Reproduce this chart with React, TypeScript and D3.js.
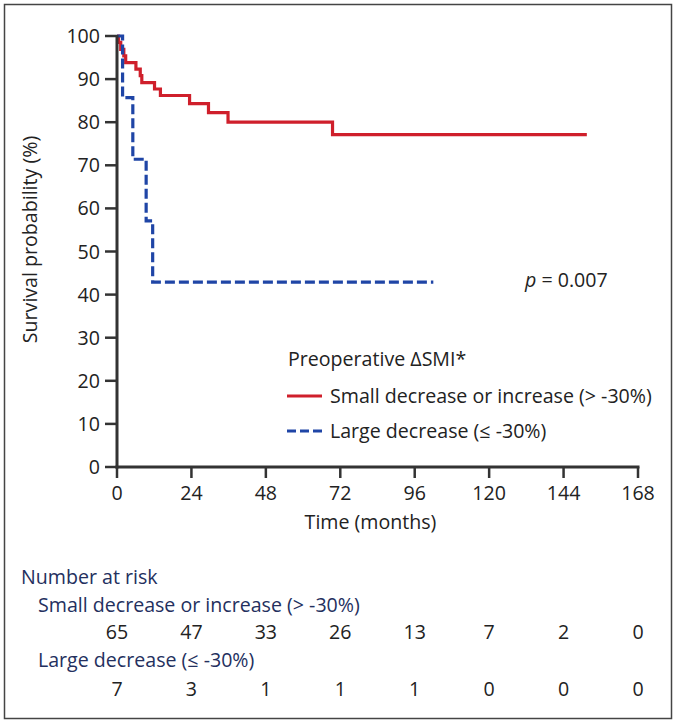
import React from "react";
import * as d3 from "d3";

const xTicks = [0, 24, 48, 72, 96, 120, 144, 168];
const yTicks = [0, 10, 20, 30, 40, 50, 60, 70, 80, 90, 100];

const redTimes = [0, 0.5, 1.2, 2.2, 2.8, 6.1, 7.5, 8.0, 12.1, 14.0, 23.4, 29.5, 35.8, 69.5];
const redSurv = [100, 98.5, 96.9, 95.4, 93.8, 92.3, 90.8, 89.2, 87.7, 86.2, 84.3, 82.2, 80.0, 77.1];
const redEnd = 151.5;

const blueTimes = [0, 1.8, 5.1, 9.4, 11.5];
const blueSurv = [100, 85.7, 71.4, 57.1, 42.9];
const blueEnd = 102;

const seriesNames = ["Small decrease or increase (> -30%)", "Large decrease (≤ -30%)"];
const riskSmall = [65, 47, 33, 26, 13, 7, 2, 0];
const riskLarge = [7, 3, 1, 1, 1, 0, 0, 0];

const FONT = "'Open Sans', 'Noto Sans', sans-serif";
const FS = 19.6;
const TEXT = "#222";
const NAVY = "#24305e";
const RED = "#cf1f2b";
const BLUE = "#1f45a6";

export default function App() {
  const x = d3.scaleLinear().domain([0, 168]).range([117, 638]);
  const y = d3.scaleLinear().domain([0, 100]).range([467, 36]);

  const line = d3
    .line<[number, number]>()
    .x((d) => x(d[0]))
    .y((d) => y(d[1]))
    .curve(d3.curveStepAfter);

  const redPts: [number, number][] = redTimes.map((t, i) => [t, redSurv[i]]);
  redPts.push([redEnd, redSurv[redSurv.length - 1]]);
  const bluePts: [number, number][] = blueTimes.map((t, i) => [t, blueSurv[i]]);
  bluePts.push([blueEnd, blueSurv[blueSurv.length - 1]]);

  return (
    <svg
      width={677}
      height={726}
      style={{ position: "absolute", left: 0, top: 0, background: "#fff" }}
      fontFamily={FONT}
    >
      <rect x={4.5} y={4.5} width={667} height={714} fill="none" stroke="#444" strokeWidth={1.5} />

      {/* curves */}
      <path d={line(redPts) || ""} fill="none" stroke={RED} strokeWidth={3.2} />
      <path
        d={line(bluePts) || ""}
        fill="none"
        stroke={BLUE}
        strokeWidth={3.2}
        strokeDasharray="10,4"
      />

      {/* axes */}
      <line x1={x(0)} x2={x(0)} y1={y(100) - 1} y2={y(0) + 1.5} stroke="#333" strokeWidth={3} />
      <line x1={x(0) - 1.5} x2={x(168) + 1.5} y1={y(0)} y2={y(0)} stroke="#333" strokeWidth={3} />
      {yTicks.map((t) => (
        <g key={"y" + t}>
          <line x1={x(0) - 12} x2={x(0)} y1={y(t)} y2={y(t)} stroke="#333" strokeWidth={2.5} />
          <text x={x(0) - 17} y={y(t)} dy="0.36em" textAnchor="end" fontSize={FS} fill={TEXT}>
            {t}
          </text>
        </g>
      ))}
      {xTicks.map((t) => (
        <g key={"x" + t}>
          <line x1={x(t)} x2={x(t)} y1={y(0)} y2={y(0) + 11} stroke="#333" strokeWidth={2.5} />
          <text x={x(t)} y={500} textAnchor="middle" fontSize={FS} fill={TEXT}>
            {t}
          </text>
        </g>
      ))}
      <text
        transform={`translate(37,${y(50) - 12}) rotate(-90)`}
        textAnchor="middle"
        fontSize={FS}
        fill={TEXT}
      >
        Survival probability (%)
      </text>
      <text x={(x(0) + x(168)) / 2 - 7} y={529} textAnchor="middle" fontSize={FS} fill={TEXT}>
        Time (months)
      </text>

      {/* p value */}
      <text x={525} y={287} fontSize={FS} fill={TEXT}>
        <tspan fontStyle="italic">p</tspan> = 0.007
      </text>

      {/* legend */}
      <text x={288} y={366} fontSize={FS} fill={TEXT}>
        Preoperative ΔSMI*
      </text>
      <line x1={287} x2={322} y1={396} y2={396} stroke={RED} strokeWidth={3.2} />
      <text x={330} y={403} fontSize={FS} fill={TEXT}>
        {seriesNames[0]}
      </text>
      <line x1={287} x2={322} y1={431} y2={431} stroke={BLUE} strokeWidth={3.2} strokeDasharray="9,4" />
      <text x={330} y={438} fontSize={FS} fill={TEXT}>
        {seriesNames[1]}
      </text>

      {/* risk table */}
      <text x={21} y={584} fontSize={FS} fill={NAVY}>
        Number at risk
      </text>
      <text x={38} y={612} fontSize={FS} fill={NAVY}>
        {seriesNames[0]}
      </text>
      {riskSmall.map((v, i) => (
        <text key={"rs" + i} x={x(xTicks[i])} y={639} textAnchor="middle" fontSize={FS} fill={TEXT}>
          {v}
        </text>
      ))}
      <text x={38} y={667} fontSize={FS} fill={NAVY}>
        {seriesNames[1]}
      </text>
      {riskLarge.map((v, i) => (
        <text key={"rl" + i} x={x(xTicks[i])} y={696} textAnchor="middle" fontSize={FS} fill={TEXT}>
          {v}
        </text>
      ))}
    </svg>
  );
}
